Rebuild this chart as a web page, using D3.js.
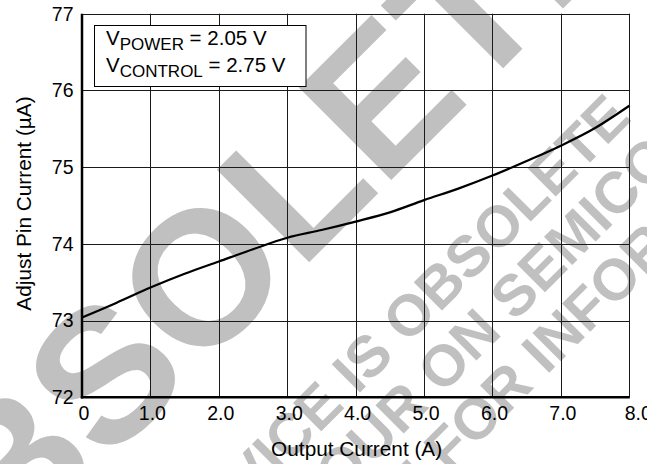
<!DOCTYPE html>
<html>
<head>
<meta charset="utf-8">
<script src="https://cdn.jsdelivr.net/npm/d3@7"></script>
<style>
  html, body { margin: 0; padding: 0; background: #fff; }
  svg { display: block; font-family: "Liberation Sans", Arial, sans-serif; }
</style>
</head>
<body>
<div id="chart"></div>
<script>
// values
const outputCurrent = [0, 0.5, 1, 1.5, 2, 2.5, 3, 3.5, 4, 4.5, 5, 5.5, 6, 6.5, 7, 7.5, 8]
const adjustPinCurrent = [73.04, 73.23, 73.43, 73.61, 73.77, 73.93, 74.08, 74.18, 74.29, 74.41, 74.57, 74.72, 74.89, 75.08, 75.28, 75.51, 75.80]

const xTicks = [0, 1, 2, 3, 4, 5, 6, 7, 8]
const xTickLabels = ["0", "1.0", "2.0", "3.0", "4.0", "5.0", "6.0", "7.0", "8.0"]
const yTicks = [72, 73, 74, 75, 76, 77]
const yTickLabels = ["72", "73", "74", "75", "76", "77"]

const legendLines = [
    { main: "V", sub: "POWER", rest: " = 2.05 V" },
    { main: "V", sub: "CONTROL", rest: " = 2.75 V" }
]

// watermark text, placed in a frame turned by -45 degrees
const stampWords = [
    { before: "", word: "OBSOLETE", size: 190, u: -539, v: 404 },
    { before: "THIS DEVICE IS", word: "OBSOLETE", size: 58, u: 44, v: 532 },
    { before: "PLEASE CONTACT YOUR", word: "ON SEMICONDUCTOR", size: 58, u: 33, v: 592 },
    { before: "REPRESENTATIVE FOR", word: "INFORMATION", size: 58, u: 121, v: 652 }
]

const width = 647,
    height = 464,
    plotLeft = 82,
    plotRight = 629.3,
    plotTop = 13.7,
    plotBottom = 397.3

const x = d3.scaleLinear().domain([0, 8]).range([plotLeft, plotRight])
const y = d3.scaleLinear().domain([72, 77]).range([plotBottom, plotTop])
const px = v => Math.round(v) + 0.5

const svg = d3.select("#chart").append("svg")
    .attr("width", width)
    .attr("height", height)

svg.append("rect").attr("width", width).attr("height", height).attr("fill", "#fff")

// watermark
const stamp = svg.append("g")
    .attr("transform", "rotate(-45)")
    .attr("fill", "#c0c0c0")
    .style("font-weight", "bold")

stampWords.forEach(s => {
    stamp.append("text")
        .attr("x", s.u)
        .attr("y", s.v)
        .attr("font-size", s.size)
        .text(s.word)
    if (s.before) {
        stamp.append("text")
            .attr("x", s.u - 0.278 * s.size)
            .attr("y", s.v)
            .attr("font-size", s.size)
            .attr("text-anchor", "end")
            .text(s.before)
    }
})

// grid
svg.append("g").selectAll("line")
    .data(xTicks.slice(1))
    .join("line")
    .attr("x1", d => px(x(d))).attr("x2", d => px(x(d)))
    .attr("y1", plotTop).attr("y2", plotBottom)
    .attr("stroke", "#1a1a1a").attr("stroke-width", 1)

svg.append("g").selectAll("line")
    .data(yTicks.slice(1))
    .join("line")
    .attr("y1", d => px(y(d))).attr("y2", d => px(y(d)))
    .attr("x1", plotLeft).attr("x2", plotRight)
    .attr("stroke", "#1a1a1a").attr("stroke-width", 1)

// heavier left and bottom axes
svg.append("line")
    .attr("x1", x(0)).attr("x2", x(0))
    .attr("y1", plotTop).attr("y2", plotBottom + 1.3)
    .attr("stroke", "#000").attr("stroke-width", 2.5)
svg.append("line")
    .attr("x1", x(0) - 1.2).attr("x2", plotRight + 0.5)
    .attr("y1", y(72)).attr("y2", y(72))
    .attr("stroke", "#000").attr("stroke-width", 2.6)

// legend
const legend = svg.append("g")
legend.append("rect")
    .attr("x", 94.5).attr("y", 25.5)
    .attr("width", 211.5).attr("height", 61)
    .attr("fill", "#fff").attr("stroke", "#000").attr("stroke-width", 1)

legend.selectAll("text")
    .data(legendLines)
    .join("text")
    .attr("x", 106)
    .attr("y", (d, i) => 45 + i * 27)
    .attr("font-size", 20.5)
    .attr("fill", "#000")
    .each(function (d) {
        const t = d3.select(this)
        t.append("tspan").text(d.main)
        t.append("tspan").attr("font-size", 17).attr("dy", 5).text(d.sub)
        t.append("tspan").attr("dy", -5).text(d.rest)
    })

// curve
const line = d3.line()
    .x((d, i) => x(outputCurrent[i]))
    .y(d => y(d))
    .curve(d3.curveMonotoneX)

svg.append("path")
    .datum(adjustPinCurrent)
    .attr("d", line)
    .attr("fill", "none")
    .attr("stroke", "#000")
    .attr("stroke-width", 2.2)

// tick labels
svg.append("g").selectAll("text")
    .data(xTicks)
    .join("text")
    .attr("x", (d, i) => x(d) + (i === xTicks.length - 1 ? 9 : 2))
    .attr("y", 420)
    .attr("text-anchor", "middle")
    .attr("font-size", 19.5)
    .attr("fill", "#000")
    .text((d, i) => xTickLabels[i])

svg.append("g").selectAll("text")
    .data(yTicks)
    .join("text")
    .attr("x", 73.5)
    .attr("y", d => y(d) + 6.8)
    .attr("text-anchor", "end")
    .attr("font-size", 19.5)
    .attr("fill", "#000")
    .text((d, i) => yTickLabels[i])

// axis titles
svg.append("text")
    .attr("x", (plotLeft + plotRight) / 2 + 1)
    .attr("y", 456)
    .attr("text-anchor", "middle")
    .attr("font-size", 20.8)
    .attr("fill", "#000")
    .text("Output Current (A)")

svg.append("text")
    .attr("transform", `translate(30.5,${(plotTop + plotBottom) / 2 - 2}) rotate(-90)`)
    .attr("text-anchor", "middle")
    .attr("font-size", 20.8)
    .attr("fill", "#000")
    .text("Adjust Pin Current (\u00b5A)")
</script>
</body>
</html>
